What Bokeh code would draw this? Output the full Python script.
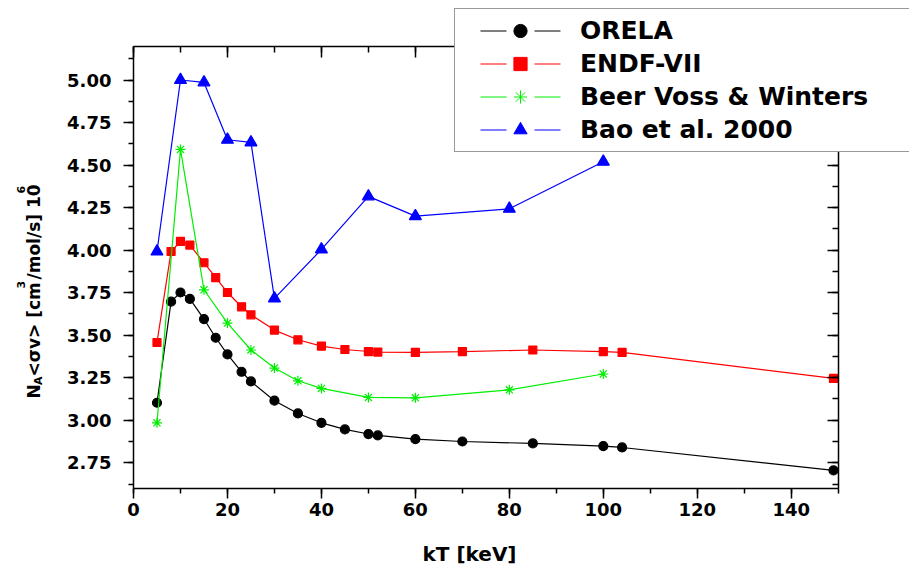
import math
from bokeh.plotting import figure
from bokeh.models import (Range1d, LinearAxis, SingleIntervalTicker, Legend, LegendItem,
                          Label, PrintfTickFormatter, CustomJSTickFormatter)
from bokeh.embed import file_html
from bokeh.resources import INLINE

# ---------------- data ----------------
kT_orela = [5, 8, 10, 12, 15, 17.5, 20, 23, 25, 30, 35, 40, 45, 50, 52, 60, 70, 85, 100, 104, 149]
orela = [3.103, 3.697, 3.751, 3.713, 3.595, 3.485, 3.387, 3.285, 3.228, 3.115, 3.040,
         2.985, 2.946, 2.919, 2.911, 2.889, 2.875, 2.864, 2.848, 2.840, 2.705]

kT_endf = [5, 8, 10, 12, 15, 17.5, 20, 23, 25, 30, 35, 40, 45, 50, 52, 60, 70, 85, 100, 104, 149]
endf = [3.457, 3.992, 4.051, 4.030, 3.926, 3.838, 3.751, 3.667, 3.620, 3.530, 3.473,
        3.436, 3.416, 3.404, 3.401, 3.399, 3.404, 3.413, 3.404, 3.399, 3.246]

kT_bvw = [5, 10, 15, 20, 25, 30, 35, 40, 50, 60, 80, 100]
bvw = [2.985, 4.592, 3.767, 3.571, 3.413, 3.307, 3.232, 3.187, 3.134, 3.132, 3.179, 3.272]

kT_bao = [5, 10, 15, 20, 25, 30, 40, 50, 60, 80, 100]
bao = [3.992, 5.000, 4.986, 4.649, 4.633, 3.716, 4.004, 4.316, 4.200, 4.243, 4.520]

series_labels = ["ORELA", "ENDF-VII", "Beer Voss & Winters", "Bao et al. 2000"]
x_label = "kT [keV]"
# y title pieces: (text, role)  role: n = normal, sub = subscript, sup = superscript
y_label_parts = [("N", "n"), ("A", "sub"), ("<\u03c3v> [cm", "n"), ("3", "sup"),
                 ("/mol/s] 10", "n"), ("6", "sup")]
x_limits = (0, 150)
y_limits = (2.6, 5.2)

# ---------------- layout (pixels) ----------------
FONT = "DejaVu Sans"
W, H = 909, 567
PX0, PX1 = 133.0, 837.7      # pixel of x = 0 and x = 150
PY0, PY1 = 487.8, 45.5       # pixel of y = 2.6 and y = 5.2
sx = (PX1 - PX0) / (x_limits[1] - x_limits[0])
sy = (PY0 - PY1) / (y_limits[1] - y_limits[0])
# the frame covers the whole canvas; the visible box is drawn by fixed-location axes
xr0 = x_limits[0] - PX0 / sx
xr1 = xr0 + W / sx
yr1 = y_limits[1] + PY1 / sy
yr0 = yr1 - H / sy


def dx(px):
    return xr0 + px / sx


def dy(py):
    return yr1 - py / sy


p = figure(width=W, height=H, output_backend="svg", toolbar_location=None,
           x_range=Range1d(xr0, xr1), y_range=Range1d(yr0, yr1),
           x_axis_location=None, y_axis_location=None,
           min_border_left=0, min_border_right=0, min_border_top=0, min_border_bottom=0)
p.background_fill_color = "white"
p.border_fill_color = "white"
p.outline_line_color = None
p.grid.visible = False


def make_axis(interval, bounds, loc, inward=False, labels=True):
    ax = LinearAxis(ticker=SingleIntervalTicker(interval=interval, num_minor_ticks=2),
                    bounds=bounds, fixed_location=loc)
    ax.axis_line_color = "black"
    ax.axis_line_width = 1.5
    ax.major_tick_line_color = "black"
    ax.minor_tick_line_color = "black"
    ax.major_tick_line_width = 1.5
    ax.minor_tick_line_width = 1.5
    if inward:
        ax.major_tick_in, ax.major_tick_out = 11, 0
        ax.minor_tick_in, ax.minor_tick_out = 6, 0
    else:
        ax.major_tick_in, ax.major_tick_out = 0, 10
        ax.minor_tick_in, ax.minor_tick_out = 0, 5
    if labels:
        ax.major_label_text_font = FONT
        ax.major_label_text_font_style = "bold"
        ax.major_label_text_font_size = "18px"
        ax.major_label_text_color = "black"
    else:
        ax.formatter = CustomJSTickFormatter(code="return ''")
        ax.major_label_text_font_size = "0px"
        ax.major_label_standoff = 0
    return ax


bottom = make_axis(20, x_limits, y_limits[0])
bottom.major_label_standoff = 5
p.add_layout(bottom, "below")

left = make_axis(0.25, y_limits, x_limits[0])
left.formatter = PrintfTickFormatter(format="%.2f")
left.major_label_standoff = 12
p.add_layout(left, "left")

top = make_axis(20, x_limits, y_limits[1], inward=True, labels=False)
p.add_layout(top, "above")
right = make_axis(0.25, y_limits, x_limits[1], inward=True, labels=False)
p.add_layout(right, "right")

# ---------------- series ----------------
specs = [
    (kT_orela, orela, "black", "circle", 9, 6),
    (kT_endf, endf, "red", "square", 8, 6),
    (kT_bvw, bvw, "#00ee00", "asterisk", 10, 7),
    (kT_bao, bao, "blue", "triangle", 12, 8),
]
items = []
for (xs, ys, col, mk, sz, lsz), lab in zip(specs, series_labels):
    p.line(xs, ys, line_color=col, line_width=1.2)
    p.scatter(xs, ys, marker=mk, size=sz, fill_color=col, line_color=col, line_width=1.2)
    dl = p.line(x=[-1e4, -1e4 + 1], y=[-1e4, -1e4], line_color=col, line_width=1.2,
                line_dash="0 20 26 28 26 20")
    ds = p.scatter(x=[-1e4], y=[-1e4], marker=mk, size=lsz, fill_color=col,
                   line_color=col, line_width=1)
    items.append(LegendItem(label=lab, renderers=[dl, ds]))

legend = Legend(items=items, location=(454, H - 152), padding=5, spacing=0,
                label_height=33, glyph_height=33, glyph_width=120,
                label_standoff=-10, label_width=340, margin=0,
                border_line_color="#333333", border_line_width=1.5,
                background_fill_color="white", background_fill_alpha=1,
                label_text_font=FONT, label_text_font_style="bold",
                label_text_font_size="25px", label_text_color="black")
p.add_layout(legend)

# ---------------- axis titles ----------------
p.add_layout(Label(x=dx(469), y=dy(553), text=x_label, text_font=FONT,
                   text_font_style="bold", text_font_size="20px", text_align="center",
                   text_baseline="alphabetic", text_color="black"))

# y title runs bottom-to-top; canvas y where each piece starts
starts = [398, 384.5, 376, 288, 279, 193]
for (txt, role), by in zip(y_label_parts, starts):
    bx = {"n": 33, "sub": 38, "sup": 20.5}[role]
    fs = "17px" if role == "n" else "11px"
    p.add_layout(Label(x=dx(bx), y=dy(by), text=txt, angle=math.pi / 2,
                       text_font=FONT, text_font_style="bold", text_font_size=fs,
                       text_align="left", text_baseline="alphabetic",
                       text_color="black"))

open("out.html", "w").write(file_html(p, INLINE))
